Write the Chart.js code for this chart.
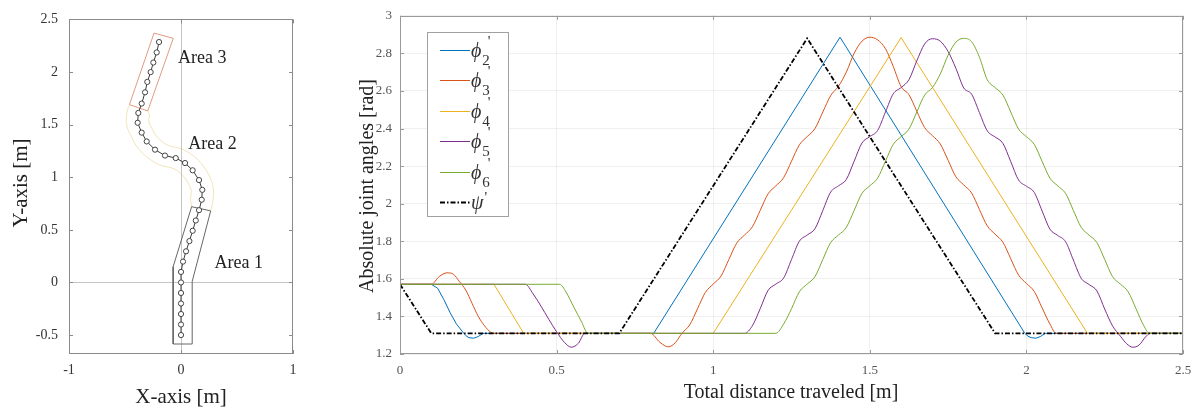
<!DOCTYPE html>
<html><head><meta charset="utf-8">
<script src="https://cdn.jsdelivr.net/npm/chart.js@4/dist/chart.umd.min.js"></script>
<style>
html,body{margin:0;padding:0;background:#fff;width:1203px;height:411px;overflow:hidden}
#w1{position:absolute;left:0;top:0;width:320px;height:411px}
#w2{position:absolute;left:320px;top:0;width:883px;height:411px}
</style></head><body>
<div id="w1"><canvas id="c1"></canvas></div>
<div id="w2"><canvas id="c2"></canvas></div>
<script>
// ---------- left panel data ----------
const leftXTicks = [-1, 0, 1];
const leftYTicks = [-0.5, 0, 0.5, 1, 1.5, 2, 2.5];
const pathPoints = [
  [0,-0.5],[0,-0.4],[0,-0.3],[0,-0.2],[0,-0.1],[0,0],[0,0.1],
  [0.018,0.198],[0.045,0.296],[0.075,0.393],[0.104,0.491],[0.132,0.589],[0.161,0.687],
  [0.185,0.786],[0.19,0.88],[0.161,0.973],[0.104,1.066],[0.036,1.135],[-0.047,1.182],
  [-0.143,1.206],[-0.232,1.262],[-0.306,1.34],[-0.351,1.424],[-0.387,1.518],[-0.381,1.611],
  [-0.351,1.70],[-0.321,1.807],[-0.301,1.906],[-0.271,1.999],[-0.247,2.09],[-0.217,2.186],[-0.196,2.285]
];
const area1Outline = [[-0.07,-0.585],[0.1,-0.585],[0.1,0.01],[0.265,0.68],[0.095,0.72],[-0.07,0.15],[-0.07,-0.585]];
const area2Inner = [[0.095,0.72],[0.086,0.80],[0.091,0.867],[0.07,0.931],[0.025,1.005],[-0.025,1.056],[-0.084,1.089],[-0.183,1.114],[-0.295,1.185],[-0.386,1.28],[-0.442,1.383],[-0.486,1.502],[-0.48,1.627],[-0.46,1.69]];
const area2Outer = [[0.265,0.68],[0.284,0.771],[0.289,0.893],[0.252,1.015],[0.183,1.127],[0.097,1.214],[-0.01,1.275],[-0.103,1.298],[-0.169,1.339],[-0.226,1.40],[-0.26,1.465],[-0.288,1.534],[-0.282,1.595],[-0.297,1.63]];
const area3Outline = [[-0.46,1.69],[-0.297,1.63],[-0.069,2.32],[-0.241,2.37],[-0.46,1.69]];
const areaLabels = ['Area 1','Area 2','Area 3'];
const areaLabelPos = [[0.30,0.18],[0.065,1.315],[-0.027,2.13]];

// ---------- right panel data ----------
const rightXTicks = [0, 0.5, 1, 1.5, 2, 2.5];
const rightYTicks = [1.2, 1.4, 1.6, 1.8, 2, 2.2, 2.4, 2.6, 2.8, 3];
const phi2 = [[0,1.571],[0.1,1.571],[0.12,1.55],[0.14,1.49],[0.16,1.42],[0.18,1.36],[0.2,1.318],[0.21,1.298],[0.22,1.287],[0.235,1.284],[0.25,1.293],[0.265,1.31],
  [0.81,1.31],[1.405,2.886],[1.995,1.31],[2.005,1.295],[2.015,1.287],[2.03,1.284],[2.045,1.293],[2.06,1.31],[2.5,1.31]];
const phi3 = [[0,1.571],[0.1,1.571],[0.125,1.612],[0.15,1.632],[0.17,1.625],[0.19,1.585],[0.21,1.54],[0.23,1.47],[0.25,1.40],[0.27,1.35],[0.29,1.315],[0.3,1.31],
  [0.8,1.31],[0.83,1.262],[0.857,1.238],[0.88,1.262],[0.9,1.31],[0.925,1.355],[0.95,1.441],[0.975,1.528],[1.0,1.572],[1.025,1.615],[1.05,1.703],[1.075,1.79],
  [1.1,1.833],[1.125,1.877],[1.15,1.964],[1.175,2.052],[1.2,2.095],[1.225,2.139],[1.25,2.226],[1.275,2.313],[1.3,2.357],[1.325,2.40],[1.35,2.488],[1.375,2.575],
  [1.4,2.625],[1.425,2.70],[1.45,2.80],[1.475,2.865],[1.5,2.886],[1.525,2.872],[1.55,2.825],[1.575,2.73],[1.6,2.623],[1.625,2.58],[1.65,2.492],[1.675,2.405],
  [1.7,2.362],[1.725,2.318],[1.75,2.231],[1.775,2.143],[1.8,2.1],[1.825,2.057],[1.85,1.969],[1.875,1.882],[1.9,1.838],[1.925,1.795],[1.95,1.707],[1.975,1.62],
  [2.0,1.576],[2.025,1.533],[2.05,1.446],[2.075,1.36],[2.095,1.31],[2.5,1.31]];
const phi4 = [[0,1.571],[0.3,1.571],[0.395,1.31],[1.0,1.31],[1.6,2.884],[2.195,1.31],[2.5,1.31]];
const phi5 = [[0,1.571],[0.4,1.571],[0.425,1.52],[0.45,1.455],[0.475,1.385],[0.5,1.318],[0.525,1.262],[0.547,1.236],[0.57,1.258],[0.59,1.31],
  [1.1,1.31],[1.125,1.35],[1.15,1.441],[1.175,1.538],[1.2,1.572],[1.225,1.605],[1.25,1.703],[1.275,1.80],[1.3,1.833],[1.325,1.867],[1.35,1.964],[1.375,2.062],
  [1.4,2.095],[1.425,2.129],[1.45,2.226],[1.475,2.323],[1.5,2.357],[1.525,2.39],[1.55,2.488],[1.575,2.585],[1.6,2.618],[1.625,2.66],[1.65,2.76],[1.675,2.85],
  [1.7,2.878],[1.725,2.865],[1.75,2.81],[1.775,2.72],[1.8,2.616],[1.825,2.583],[1.85,2.485],[1.875,2.388],[1.9,2.355],[1.925,2.321],[1.95,2.224],[1.975,2.126],
  [2.0,2.093],[2.025,2.06],[2.05,1.962],[2.075,1.865],[2.1,1.831],[2.125,1.798],[2.15,1.70],[2.175,1.603],[2.2,1.57],[2.225,1.536],[2.25,1.439],[2.275,1.35],
  [2.3,1.295],[2.32,1.255],[2.34,1.236],[2.36,1.248],[2.38,1.29],[2.395,1.31],[2.5,1.31]];
const phi6 = [[0,1.571],[0.51,1.571],[0.53,1.53],[0.555,1.45],[0.58,1.37],[0.6,1.31],
  [1.2,1.31],[1.225,1.36],[1.25,1.441],[1.275,1.531],[1.3,1.572],[1.325,1.612],[1.35,1.703],[1.375,1.793],[1.4,1.833],[1.425,1.874],[1.45,1.964],[1.475,2.055],
  [1.5,2.095],[1.525,2.136],[1.55,2.226],[1.575,2.316],[1.6,2.357],[1.625,2.397],[1.65,2.488],[1.675,2.578],[1.7,2.618],[1.725,2.69],[1.75,2.79],[1.775,2.86],
  [1.8,2.88],[1.825,2.862],[1.85,2.78],[1.875,2.66],[1.9,2.618],[1.925,2.578],[1.95,2.488],[1.975,2.397],[2.0,2.357],[2.025,2.316],[2.05,2.226],[2.075,2.136],
  [2.1,2.095],[2.125,2.055],[2.15,1.964],[2.175,1.874],[2.2,1.833],[2.225,1.793],[2.25,1.703],[2.275,1.612],[2.3,1.572],[2.325,1.531],[2.35,1.441],[2.375,1.35],
  [2.393,1.31],[2.5,1.31]];
const psi = [[0,1.571],[0.1,1.31],[0.7,1.31],[1.3,2.88],[1.9,1.31],[2.5,1.31]];
const seriesSubs = ['2','3','4','5','6'];
const seriesColors = ['#0072BD','#D95319','#EDB120','#7E2F8E','#77AC30'];
const seriesSmooth = [false, true, false, true, true];

const SERIF = "'Liberation Serif','Times New Roman',serif";
const pts = a => a.map(p => ({x:p[0], y:p[1]}));

function framePlugin(color, tl){
  return {id:'frame', afterDatasetsDraw(chart){
    const {ctx, chartArea:a, scales:{x, y}} = chart;
    ctx.save();
    ctx.strokeStyle = color; ctx.lineWidth = 1;
    ctx.strokeRect(Math.round(a.left)+0.5, Math.round(a.top)+0.5, Math.round(a.right-a.left)-1, Math.round(a.bottom-a.top)-1);
    ctx.beginPath();
    x.ticks.forEach(t => {
      const px = Math.round(x.getPixelForValue(t.value)) + 0.5;
      ctx.moveTo(px, a.bottom); ctx.lineTo(px, a.bottom - tl);
      ctx.moveTo(px, a.top); ctx.lineTo(px, a.top + tl);
    });
    y.ticks.forEach(t => {
      const py = Math.round(y.getPixelForValue(t.value)) + 0.5;
      ctx.moveTo(a.left, py); ctx.lineTo(a.left + tl, py);
      ctx.moveTo(a.right, py); ctx.lineTo(a.right - tl, py);
    });
    ctx.stroke();
    ctx.restore();
  }};
}

function titlesPlugin(xt, xpos, yt, ypos, size){
  return {id:'titles', afterDraw(chart){
    const ctx = chart.ctx;
    ctx.save();
    ctx.fillStyle = '#222';
    ctx.font = size + 'px ' + SERIF;
    ctx.textAlign = 'center'; ctx.textBaseline = 'middle';
    ctx.fillText(xt, xpos[0], xpos[1]);
    ctx.translate(ypos[0], ypos[1]);
    ctx.rotate(-Math.PI/2);
    ctx.fillText(yt, 0, 0);
    ctx.restore();
  }};
}

const areaLabelPlugin = {id:'areaLabels', afterDraw(chart){
  const {ctx, scales:{x, y}} = chart;
  ctx.save();
  ctx.fillStyle = '#222';
  ctx.font = '18px ' + SERIF;
  ctx.textAlign = 'left'; ctx.textBaseline = 'middle';
  areaLabels.forEach((t, i) => ctx.fillText(t, x.getPixelForValue(areaLabelPos[i][0]), y.getPixelForValue(areaLabelPos[i][1])));
  ctx.restore();
}};

const legendPlugin = {id:'phiLegend', afterDraw(chart){
  const ctx = chart.ctx;
  const bx = 107, by = 32, bw = 81, bh = 184;
  ctx.save();
  ctx.fillStyle = '#fff';
  ctx.fillRect(bx, by, bw, bh);
  ctx.strokeStyle = '#a0a0a0'; ctx.lineWidth = 1;
  ctx.strokeRect(bx+0.5, by+0.5, bw, bh);
  const n = seriesSubs.length + 1;
  for (let i = 0; i < n; i++){
    const yy = Math.round(50 + i*30.4) + 0.5;
    ctx.beginPath();
    if (i < seriesSubs.length){
      ctx.strokeStyle = seriesColors[i]; ctx.lineWidth = 1; ctx.setLineDash([]);
    } else {
      ctx.strokeStyle = '#000'; ctx.lineWidth = 1.8; ctx.setLineDash([5,2,1.5,2]);
    }
    ctx.moveTo(120, yy); ctx.lineTo(150, yy); ctx.stroke();
    ctx.setLineDash([]);
    ctx.fillStyle = '#333';
    ctx.textBaseline = 'alphabetic'; ctx.textAlign = 'left';
    ctx.font = 'italic 20px ' + SERIF;
    const base = i < seriesSubs.length ? 'ϕ' : 'ψ';
    ctx.fillText(base, 151, yy + 6);
    const w = ctx.measureText(base).width;
    ctx.font = '15px ' + SERIF;
    if (i < seriesSubs.length){
      ctx.fillText(seriesSubs[i], 151 + w + 1, yy + 14);
      const sw = ctx.measureText(seriesSubs[i]).width;
      ctx.fillText("'", 151 + w + sw - 1, yy - 5);
    } else {
      ctx.fillText("'", 151 + w + 1, yy - 1);
    }
  }
  ctx.restore();
}};

// ---------- left chart ----------
new Chart(document.getElementById('c1'), {
  type: 'scatter',
  data: {datasets: [
    {data: pts(pathPoints), showLine: true, borderColor: '#3a3a3a', borderWidth: 1, pointRadius: 2.6, pointBackgroundColor: '#fff', pointBorderColor: '#444', pointBorderWidth: 1, tension: 0, order: 0},
    {data: pts(area1Outline), showLine: true, borderColor: '#666', borderWidth: 1, pointRadius: 0, tension: 0, order: 1},
    {data: pts(area2Inner), showLine: true, borderColor: 'rgba(230,200,120,0.5)', borderWidth: 1, pointRadius: 0, tension: 0.4, order: 2},
    {data: pts(area2Outer), showLine: true, borderColor: 'rgba(230,200,120,0.5)', borderWidth: 1, pointRadius: 0, tension: 0.4, order: 3},
    {data: pts(area3Outline), showLine: true, borderColor: '#e39a7e', borderWidth: 1, pointRadius: 0, tension: 0, order: 4}
  ]},
  options: {
    responsive: true, maintainAspectRatio: false, animation: false, devicePixelRatio: 1,
    layout: {padding: {left: 0, right: 27, top: 13, bottom: 0}},
    plugins: {legend: {display: false}, tooltip: {enabled: false}},
    scales: {
      x: {type: 'linear', min: -1, max: 1,
        afterBuildTicks: a => { a.ticks = leftXTicks.map(v => ({value: v})); },
        afterFit: a => { a.height = 57; },
        border: {display: false},
        grid: {drawTicks: false, color: c => (c.tick && c.tick.value === 0) ? '#c4c4c4' : 'rgba(0,0,0,0)'},
        ticks: {color: '#333', font: {family: SERIF, size: 14}, padding: 8, maxRotation: 0, callback: v => String(v)}},
      y: {type: 'linear', min: -0.68, max: 2.5,
        afterBuildTicks: a => { a.ticks = leftYTicks.map(v => ({value: v})); },
        afterFit: a => { a.width = 69; },
        border: {display: false},
        grid: {drawTicks: false, color: c => (c.tick && c.tick.value === 0) ? '#c4c4c4' : 'rgba(0,0,0,0)'},
        ticks: {color: '#333', font: {family: SERIF, size: 14}, padding: 11, callback: v => String(v)}}
    }
  },
  plugins: [framePlugin('#8a8a8a', 4), titlesPlugin('X-axis [m]', [181, 397], 'Y-axis [m]', [21, 183], 21), areaLabelPlugin]
});

// ---------- right chart ----------
const phiSets = [phi2, phi3, phi4, phi5, phi6];
const rightDatasets = phiSets.map((s, i) => {
  const d = {label: 'phi' + seriesSubs[i], data: pts(s), showLine: true, borderColor: seriesColors[i], borderWidth: 1,
    pointRadius: 0, order: 5 - i};
  if (seriesSmooth[i]) d.cubicInterpolationMode = 'monotone'; else d.tension = 0;
  return d;
});
rightDatasets.push({label: 'psi', data: pts(psi), showLine: true, borderColor: '#000', borderWidth: 1.8,
  borderDash: [5,2,1.5,2], pointRadius: 0, tension: 0, order: 0});

new Chart(document.getElementById('c2'), {
  type: 'scatter',
  data: {datasets: rightDatasets},
  options: {
    responsive: true, maintainAspectRatio: false, animation: false, devicePixelRatio: 1,
    layout: {padding: {left: 0, right: 20, top: 14, bottom: 0}},
    plugins: {legend: {display: false}, tooltip: {enabled: false}},
    scales: {
      x: {type: 'linear', min: 0, max: 2.5,
        afterBuildTicks: a => { a.ticks = rightXTicks.map(v => ({value: v})); },
        afterFit: a => { a.height = 57; },
        border: {display: false},
        grid: {drawTicks: false, color: 'rgba(0,0,0,0.06)'},
        ticks: {color: '#555', font: {family: SERIF, size: 13}, padding: 9, maxRotation: 0, callback: v => String(v)}},
      y: {type: 'linear', min: 1.2, max: 3,
        afterBuildTicks: a => { a.ticks = rightYTicks.map(v => ({value: v})); },
        afterFit: a => { a.width = 80; },
        border: {display: false},
        grid: {drawTicks: false, color: 'rgba(0,0,0,0.06)'},
        ticks: {color: '#555', font: {family: SERIF, size: 13}, padding: 8, callback: v => String(v)}}
    }
  },
  plugins: [framePlugin('#9a9a9a', 4), titlesPlugin('Total distance traveled [m]', [471, 393], 'Absolute joint angles [rad]', [48, 186], 20), legendPlugin]
});
</script>
</body></html>
